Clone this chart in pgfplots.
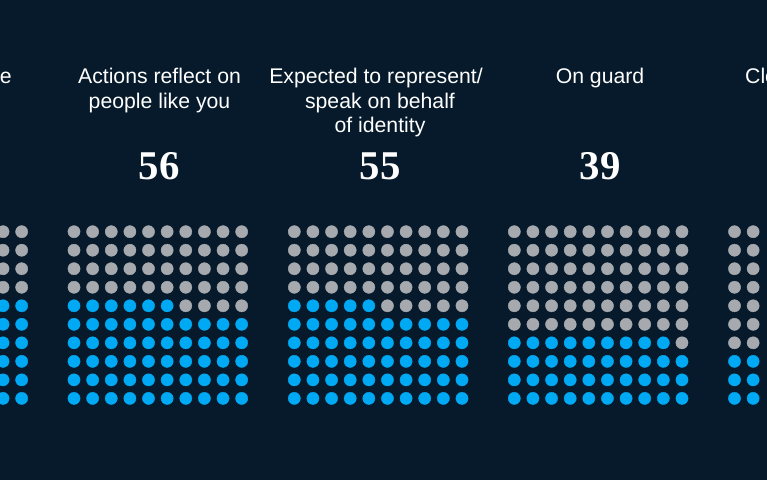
\documentclass[border=0pt]{standalone}
\usepackage{pgfplots}
\usepackage{pgfplotstable}
\pgfplotsset{compat=1.18}
\usepackage{fontspec}
\setmainfont{Liberation Sans}
\newfontfamily\numfont{Liberation Serif}
\definecolor{bg}{HTML}{061A2B}
\definecolor{dotblue}{HTML}{00A9F4}
\definecolor{dotgray}{HTML}{A6AAAF}
\tikzset{
  lbl/.style={font=\fontsize{21.3}{25}\selectfont, text=white, anchor=base, inner sep=0pt},
  numlbl/.style={font=\numfont\bfseries\fontsize{41}{44}\selectfont, text=white, anchor=base, inner sep=0pt},
}

% c = column, r = row from top, s = 1 filled (blue), 0 empty (gray)
\pgfplotstableread[row sep=\\]{
c r s\\
0 0 0\\1 0 0\\2 0 0\\3 0 0\\4 0 0\\5 0 0\\6 0 0\\7 0 0\\8 0 0\\9 0 0\\
0 1 0\\1 1 0\\2 1 0\\3 1 0\\4 1 0\\5 1 0\\6 1 0\\7 1 0\\8 1 0\\9 1 0\\
0 2 0\\1 2 0\\2 2 0\\3 2 0\\4 2 0\\5 2 0\\6 2 0\\7 2 0\\8 2 0\\9 2 0\\
0 3 1\\1 3 1\\2 3 1\\3 3 1\\4 3 0\\5 3 0\\6 3 0\\7 3 0\\8 3 0\\9 3 0\\
0 4 1\\1 4 1\\2 4 1\\3 4 1\\4 4 1\\5 4 1\\6 4 1\\7 4 1\\8 4 1\\9 4 1\\
0 5 1\\1 5 1\\2 5 1\\3 5 1\\4 5 1\\5 5 1\\6 5 1\\7 5 1\\8 5 1\\9 5 1\\
0 6 1\\1 6 1\\2 6 1\\3 6 1\\4 6 1\\5 6 1\\6 6 1\\7 6 1\\8 6 1\\9 6 1\\
0 7 1\\1 7 1\\2 7 1\\3 7 1\\4 7 1\\5 7 1\\6 7 1\\7 7 1\\8 7 1\\9 7 1\\
0 8 1\\1 8 1\\2 8 1\\3 8 1\\4 8 1\\5 8 1\\6 8 1\\7 8 1\\8 8 1\\9 8 1\\
0 9 1\\1 9 1\\2 9 1\\3 9 1\\4 9 1\\5 9 1\\6 9 1\\7 9 1\\8 9 1\\9 9 1\\
}\wA

\pgfplotstableread[row sep=\\]{
c r s\\
0 0 0\\1 0 0\\2 0 0\\3 0 0\\4 0 0\\5 0 0\\6 0 0\\7 0 0\\8 0 0\\9 0 0\\
0 1 0\\1 1 0\\2 1 0\\3 1 0\\4 1 0\\5 1 0\\6 1 0\\7 1 0\\8 1 0\\9 1 0\\
0 2 0\\1 2 0\\2 2 0\\3 2 0\\4 2 0\\5 2 0\\6 2 0\\7 2 0\\8 2 0\\9 2 0\\
0 3 0\\1 3 0\\2 3 0\\3 3 0\\4 3 0\\5 3 0\\6 3 0\\7 3 0\\8 3 0\\9 3 0\\
0 4 1\\1 4 1\\2 4 1\\3 4 1\\4 4 1\\5 4 1\\6 4 0\\7 4 0\\8 4 0\\9 4 0\\
0 5 1\\1 5 1\\2 5 1\\3 5 1\\4 5 1\\5 5 1\\6 5 1\\7 5 1\\8 5 1\\9 5 1\\
0 6 1\\1 6 1\\2 6 1\\3 6 1\\4 6 1\\5 6 1\\6 6 1\\7 6 1\\8 6 1\\9 6 1\\
0 7 1\\1 7 1\\2 7 1\\3 7 1\\4 7 1\\5 7 1\\6 7 1\\7 7 1\\8 7 1\\9 7 1\\
0 8 1\\1 8 1\\2 8 1\\3 8 1\\4 8 1\\5 8 1\\6 8 1\\7 8 1\\8 8 1\\9 8 1\\
0 9 1\\1 9 1\\2 9 1\\3 9 1\\4 9 1\\5 9 1\\6 9 1\\7 9 1\\8 9 1\\9 9 1\\
}\wB

\pgfplotstableread[row sep=\\]{
c r s\\
0 0 0\\1 0 0\\2 0 0\\3 0 0\\4 0 0\\5 0 0\\6 0 0\\7 0 0\\8 0 0\\9 0 0\\
0 1 0\\1 1 0\\2 1 0\\3 1 0\\4 1 0\\5 1 0\\6 1 0\\7 1 0\\8 1 0\\9 1 0\\
0 2 0\\1 2 0\\2 2 0\\3 2 0\\4 2 0\\5 2 0\\6 2 0\\7 2 0\\8 2 0\\9 2 0\\
0 3 0\\1 3 0\\2 3 0\\3 3 0\\4 3 0\\5 3 0\\6 3 0\\7 3 0\\8 3 0\\9 3 0\\
0 4 1\\1 4 1\\2 4 1\\3 4 1\\4 4 1\\5 4 0\\6 4 0\\7 4 0\\8 4 0\\9 4 0\\
0 5 1\\1 5 1\\2 5 1\\3 5 1\\4 5 1\\5 5 1\\6 5 1\\7 5 1\\8 5 1\\9 5 1\\
0 6 1\\1 6 1\\2 6 1\\3 6 1\\4 6 1\\5 6 1\\6 6 1\\7 6 1\\8 6 1\\9 6 1\\
0 7 1\\1 7 1\\2 7 1\\3 7 1\\4 7 1\\5 7 1\\6 7 1\\7 7 1\\8 7 1\\9 7 1\\
0 8 1\\1 8 1\\2 8 1\\3 8 1\\4 8 1\\5 8 1\\6 8 1\\7 8 1\\8 8 1\\9 8 1\\
0 9 1\\1 9 1\\2 9 1\\3 9 1\\4 9 1\\5 9 1\\6 9 1\\7 9 1\\8 9 1\\9 9 1\\
}\wC

\pgfplotstableread[row sep=\\]{
c r s\\
0 0 0\\1 0 0\\2 0 0\\3 0 0\\4 0 0\\5 0 0\\6 0 0\\7 0 0\\8 0 0\\9 0 0\\
0 1 0\\1 1 0\\2 1 0\\3 1 0\\4 1 0\\5 1 0\\6 1 0\\7 1 0\\8 1 0\\9 1 0\\
0 2 0\\1 2 0\\2 2 0\\3 2 0\\4 2 0\\5 2 0\\6 2 0\\7 2 0\\8 2 0\\9 2 0\\
0 3 0\\1 3 0\\2 3 0\\3 3 0\\4 3 0\\5 3 0\\6 3 0\\7 3 0\\8 3 0\\9 3 0\\
0 4 0\\1 4 0\\2 4 0\\3 4 0\\4 4 0\\5 4 0\\6 4 0\\7 4 0\\8 4 0\\9 4 0\\
0 5 0\\1 5 0\\2 5 0\\3 5 0\\4 5 0\\5 5 0\\6 5 0\\7 5 0\\8 5 0\\9 5 0\\
0 6 1\\1 6 1\\2 6 1\\3 6 1\\4 6 1\\5 6 1\\6 6 1\\7 6 1\\8 6 1\\9 6 0\\
0 7 1\\1 7 1\\2 7 1\\3 7 1\\4 7 1\\5 7 1\\6 7 1\\7 7 1\\8 7 1\\9 7 1\\
0 8 1\\1 8 1\\2 8 1\\3 8 1\\4 8 1\\5 8 1\\6 8 1\\7 8 1\\8 8 1\\9 8 1\\
0 9 1\\1 9 1\\2 9 1\\3 9 1\\4 9 1\\5 9 1\\6 9 1\\7 9 1\\8 9 1\\9 9 1\\
}\wD

\pgfplotstableread[row sep=\\]{
c r s\\
0 0 0\\1 0 0\\2 0 0\\3 0 0\\4 0 0\\5 0 0\\6 0 0\\7 0 0\\8 0 0\\9 0 0\\
0 1 0\\1 1 0\\2 1 0\\3 1 0\\4 1 0\\5 1 0\\6 1 0\\7 1 0\\8 1 0\\9 1 0\\
0 2 0\\1 2 0\\2 2 0\\3 2 0\\4 2 0\\5 2 0\\6 2 0\\7 2 0\\8 2 0\\9 2 0\\
0 3 0\\1 3 0\\2 3 0\\3 3 0\\4 3 0\\5 3 0\\6 3 0\\7 3 0\\8 3 0\\9 3 0\\
0 4 0\\1 4 0\\2 4 0\\3 4 0\\4 4 0\\5 4 0\\6 4 0\\7 4 0\\8 4 0\\9 4 0\\
0 5 0\\1 5 0\\2 5 0\\3 5 0\\4 5 0\\5 5 0\\6 5 0\\7 5 0\\8 5 0\\9 5 0\\
0 6 0\\1 6 0\\2 6 0\\3 6 0\\4 6 0\\5 6 0\\6 6 0\\7 6 0\\8 6 0\\9 6 0\\
0 7 1\\1 7 1\\2 7 1\\3 7 1\\4 7 1\\5 7 1\\6 7 1\\7 7 1\\8 7 1\\9 7 1\\
0 8 1\\1 8 1\\2 8 1\\3 8 1\\4 8 1\\5 8 1\\6 8 1\\7 8 1\\8 8 1\\9 8 1\\
0 9 1\\1 9 1\\2 9 1\\3 9 1\\4 9 1\\5 9 1\\6 9 1\\7 9 1\\8 9 1\\9 9 1\\
}\wE

\begin{document}
\begin{tikzpicture}
\useasboundingbox (0,0) rectangle (767bp,480bp);
\fill[bg] (0,0) rectangle (767bp,480bp);
\begin{axis}[
  at={(0,0)}, anchor=south west,
  scale only axis, width=767bp, height=480bp,
  xmin=0, xmax=767, ymin=0, ymax=480,
  y dir=reverse, hide axis, clip=true,
  every axis plot/.append style={only marks, mark=*, mark size=6.1bp},
  scatter/classes={0={mark=*, draw=dotgray, fill=dotgray}, 1={mark=*, draw=dotblue, fill=dotblue}},
]
\addplot[scatter, point meta=explicit symbolic] table[x expr=\thisrow{c}*18.63-146, y expr=\thisrow{r}*18.52+231.7, meta=s] {\wA};
\addplot[scatter, point meta=explicit symbolic] table[x expr=\thisrow{c}*18.63+74, y expr=\thisrow{r}*18.52+231.7, meta=s] {\wB};
\addplot[scatter, point meta=explicit symbolic] table[x expr=\thisrow{c}*18.63+294.3, y expr=\thisrow{r}*18.52+231.7, meta=s] {\wC};
\addplot[scatter, point meta=explicit symbolic] table[x expr=\thisrow{c}*18.63+514.3, y expr=\thisrow{r}*18.52+231.7, meta=s] {\wD};
\addplot[scatter, point meta=explicit symbolic] table[x expr=\thisrow{c}*18.63+734.5, y expr=\thisrow{r}*18.52+231.7, meta=s] {\wE};

\node[lbl, anchor=base east] at (axis cs:12,83) {Under pressure};
\node[lbl] at (axis cs:159.5,83) {Actions reflect on};
\node[lbl] at (axis cs:159.5,108) {people like you};
\node[lbl] at (axis cs:376,83) {Expected to represent/};
\node[lbl] at (axis cs:380,108) {speak on behalf};
\node[lbl] at (axis cs:380,132) {of identity};
\node[lbl] at (axis cs:600,83) {On guard};
\node[lbl, anchor=base west] at (axis cs:745,83) {Closely watched};

\node[numlbl] at (axis cs:159,179) {56};
\node[numlbl] at (axis cs:380,179) {55};
\node[numlbl] at (axis cs:600,179) {39};
\end{axis}
\end{tikzpicture}
\end{document}
